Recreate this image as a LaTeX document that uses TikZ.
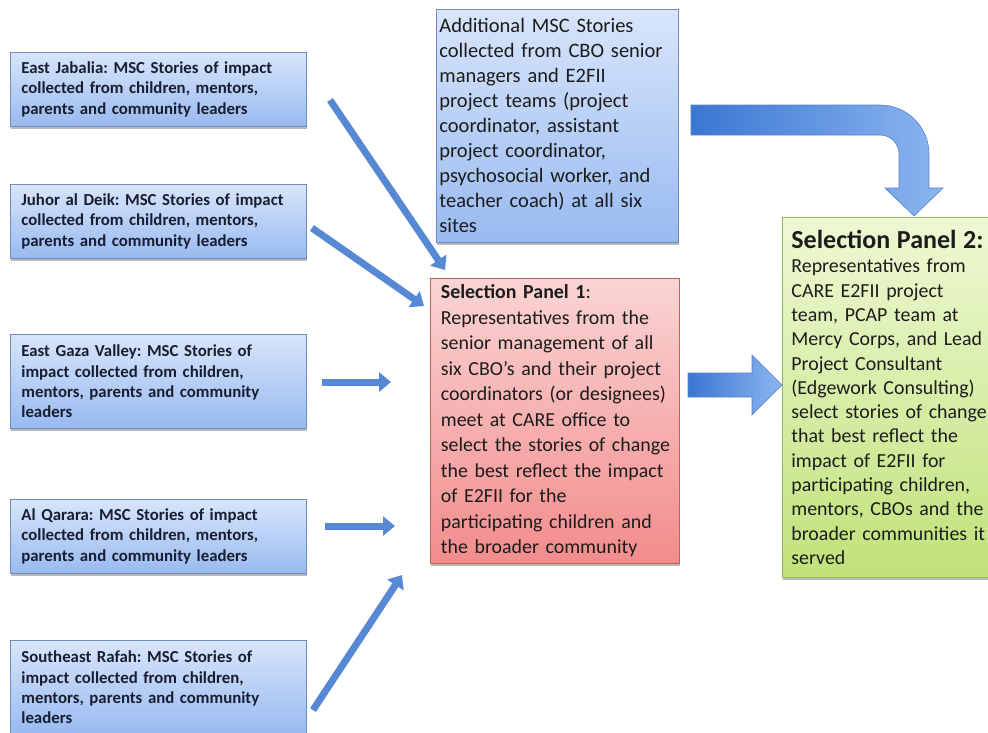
\documentclass[tikz,border=0pt]{standalone}
\usepackage{fontspec}
\setmainfont{Carlito}
\usetikzlibrary{arrows.meta,shadows,calc}
\definecolor{bluetop}{RGB}{216,229,251}
\definecolor{bluebot}{RGB}{152,186,240}
\definecolor{bluebd}{RGB}{112,140,186}
\definecolor{redtop}{RGB}{250,212,212}
\definecolor{redbot}{RGB}{242,140,140}
\definecolor{redbd}{RGB}{196,96,92}
\definecolor{greentop}{RGB}{238,248,212}
\definecolor{greenbot}{RGB}{192,226,122}
\definecolor{greenbd}{RGB}{150,184,90}
\definecolor{navytext}{RGB}{24,30,48}
\definecolor{bodytext}{RGB}{28,28,28}
\definecolor{thinarrow}{RGB}{86,136,212}
\definecolor{bigdark}{RGB}{58,118,210}
\definecolor{biglight}{RGB}{140,182,240}
\definecolor{bigbd}{RGB}{90,130,196}
\begin{document}
\frenchspacing
\begin{tikzpicture}[x=1pt,y=-1pt,
  shadowed/.style={drop shadow={shadow xshift=1pt,shadow yshift=-2.5pt,opacity=0.28,fill=black}},
  lbox/.style={shadowed,draw=bluebd,line width=0.8pt,top color=bluetop,bottom color=bluebot,
    align=left,text width=274pt,inner xsep=11pt,inner ysep=0pt,anchor=north west,
    font=\fontsize{16.8}{20.3}\selectfont\bfseries,text=navytext},
  tbox/.style={shadowed,draw=bluebd,line width=0.8pt,top color=bluetop,bottom color=bluebot,
    align=left,text width=236pt,inner xsep=3pt,inner ysep=0pt,anchor=north west,
    font=\fontsize{20.5}{25}\selectfont,text=bodytext},
  rbox/.style={shadowed,draw=redbd,line width=0.8pt,top color=redtop,bottom color=redbot,
    align=left,text width=228pt,inner xsep=10.5pt,inner ysep=0pt,anchor=north west,
    font=\fontsize{19.9}{25.5}\selectfont,text=bodytext},
  gbox/.style={shadowed,draw=greenbd,line width=0.8pt,top color=greentop,bottom color=greenbot,
    align=left,text width=215pt,inner xsep=9pt,inner ysep=0pt,anchor=north west,
    font=\fontsize{19.9}{24.3}\selectfont,text=bodytext},
  thin/.style={draw=thinarrow,line width=7pt,-{Triangle[width=19pt,length=12pt]}},
  bigarrow/.style={draw=bigbd,line width=0.6pt,left color=bigdark,right color=biglight}
]
\useasboundingbox (0,0) rectangle (988,732);
\fill[white] (0,0) rectangle (988,732);

\node[lbox,minimum height=74pt] (b1) at (10,52)
  {East Jabalia: MSC Stories of impact\\collected from children, mentors,\\parents and community leaders};
\node[lbox,minimum height=74pt] (b2) at (10,184)
  {Juhor al Deik: MSC Stories of impact\\collected from children, mentors,\\parents and community leaders};
\node[lbox,minimum height=94pt] (b3) at (10,334)
  {East Gaza Valley: MSC Stories of\\impact collected from children,\\mentors, parents and community\\leaders};
\node[lbox,minimum height=74pt] (b4) at (10,499)
  {Al Qarara: MSC Stories of impact\\collected from children, mentors,\\parents and community leaders};
\node[lbox,minimum height=94pt] (b5) at (10,640)
  {Southeast Rafah: MSC Stories of\\impact collected from children,\\mentors, parents and community\\leaders};

\node[tbox,minimum height=233pt] (add) at (436,9)
  {Additional MSC Stories\\collected from CBO senior\\managers and E2FII\\project teams (project\\coordinator, assistant\\project coordinator,\\psychosocial worker, and\\teacher coach) at all six\\sites};

\node[rbox,minimum height=285pt] (p1) at (430,278)
  {\textbf{Selection Panel 1}:\\Representatives from the\\senior management of all\\\mbox{six CBO’s and their project}\\\mbox{coordinators (or designees)}\\meet at CARE office to\\\mbox{select the stories of change}\\\mbox{the best reflect the impact}\\of E2FII for the\\participating children and\\the broader community};

\node[gbox,minimum height=360pt] (p2) at (782,217)
  {{\fontsize{26}{30}\selectfont\bfseries Selection Panel 2:}\\Representatives from\\CARE E2FII project\\team, PCAP team at\\Mercy Corps, and Lead\\Project Consultant\\(Edgework Consulting)\\\mbox{select stories of change}\\that best reflect the\\impact of E2FII for\\participating children,\\mentors, CBOs and the\\\mbox{broader communities it}\\served};

% thin arrows
\coordinate (a1s) at (330,100);  \coordinate (a1e) at (445,270);
\coordinate (a2s) at (312,228);  \coordinate (a2e) at (424,306);
\coordinate (a3s) at (322,382);  \coordinate (a3e) at (391,382);
\coordinate (a4s) at (325,526);  \coordinate (a4e) at (395,526);
\coordinate (a5s) at (313,710);  \coordinate (a5e) at (402,575);
\draw[thin] (a1s) -- (a1e);
\draw[thin] (a2s) -- (a2e);
\draw[thin] (a3s) -- (a3e);
\draw[thin] (a4s) -- (a4e);
\draw[thin] (a5s) -- (a5e);

% block arrow Panel 1 -> Panel 2
\draw[bigarrow] (688,373) -- (752,373) -- (752,355) -- (782,385) -- (752,415) -- (752,397) -- (688,397) -- cycle;

% curved block arrow Additional -> Panel 2
\draw[bigarrow] (691,105) -- (880,105) arc[start angle=-90,end angle=0,radius=49]
  -- (929,188) -- (943,188) -- (914,216) -- (885,188) -- (899,188) -- (899,154)
  arc[start angle=0,end angle=-90,radius=19] -- (691,135) -- cycle;
\end{tikzpicture}
\end{document}
